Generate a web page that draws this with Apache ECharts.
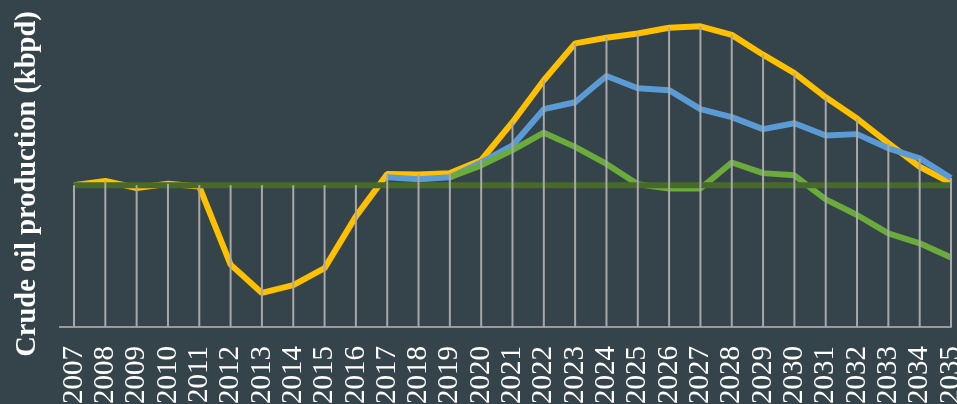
<!DOCTYPE html>
<html>
<head>
<meta charset="utf-8">
<script src="https://cdn.jsdelivr.net/npm/echarts@6/dist/echarts.min.js"></script>
<style>
html,body{margin:0;padding:0;background:#35434a;}
#c{width:957px;height:404px;}
</style>
</head>
<body>
<div id="c"></div>
<script>
var years = ['2007','2008','2009','2010','2011','2012','2013','2014','2015','2016','2017','2018','2019','2020','2021','2022','2023','2024','2025','2026','2027','2028','2029','2030','2031','2032','2033','2034','2035'];
var yellowSeries = [0,3,-2,1,-1,-56,-76,-70.5,-58.5,-22,7.8,7.5,8.5,17.6,44.4,74,100,104,107,111,112,106,92,79,62,47,29.6,13,1.5];
var blueSeries = [null,null,null,null,null,null,null,null,null,null,5.6,4.2,5.6,16,28,53.6,58.5,77,68.4,67,53.6,48,39.5,43.7,35,36,26,19,5];
var greenSeries = [null,null,null,null,null,null,null,null,null,null,null,null,5.6,14,24.7,37,27,15,0.7,-2.3,-2.3,16,8.5,7,-10,-21,-34,-41,-51];
var baselineSeries = [0,0,0,0,0,0,0,0,0,0,0,0,0,0,0,0,0,0,0,0,0,0,0,0,0,0,0,0,0];
var yMin = -100, yMax = 120;

var dropData = years.map(function(y, i){
  var vals = [yellowSeries[i], blueSeries[i], greenSeries[i], baselineSeries[i]].filter(function(v){return v!==null;});
  return [i, Math.max.apply(null, vals)];
});

var chart = echarts.init(document.getElementById('c'), null, {renderer:'canvas'});
var serif = '"Liberation Serif","Times New Roman",serif';
chart.setOption({
  animation:false,
  backgroundColor:'#35434a',
  grid:{left:74,right:6,top:15,bottom:77,containLabel:false,outerBoundsMode:'none'},
  xAxis:{
    type:'category', data:years, boundaryGap:false,
    axisLine:{show:true,onZero:false,lineStyle:{color:'#9a9a9a',width:2}},
    axisTick:{show:false},
    splitLine:{show:false},
    axisLabel:{rotate:90,color:'#ffffff',fontFamily:serif,fontSize:29,margin:19,interval:0,hideOverlap:false}
  },
  yAxis:{type:'value',min:yMin,max:yMax,show:false,splitLine:{show:false}},
  series:[
    {type:'line',data:yellowSeries,symbol:'none',lineStyle:{color:'#ffc000',width:6},z:2},
    {type:'line',data:blueSeries,symbol:'none',lineStyle:{color:'#5b9bd5',width:6},z:3},
    {type:'line',data:greenSeries,symbol:'none',lineStyle:{color:'#6aab3c',width:6},z:4},
    {type:'line',data:baselineSeries,symbol:'none',lineStyle:{color:'#476a2b',width:6},z:5},
    {type:'custom',data:dropData,z:6,silent:true,
     renderItem:function(params, api){
       var top = api.coord([api.value(0), api.value(1)]);
       var bot = api.coord([api.value(0), yMin]);
       return {type:'line',shape:{x1:top[0],y1:top[1],x2:bot[0],y2:bot[1]},style:{stroke:'#a8a8a8',lineWidth:2}};
     }}
  ]
});

var p0 = chart.convertToPixel({gridIndex:0},[0,yMin]);
chart.setOption({
  graphic:[
    {type:'line',shape:{x1:59,y1:p0[1],x2:p0[0],y2:p0[1]},style:{stroke:'#9a9a9a',lineWidth:2},z:10},
    {type:'text',x:28,y:184,rotation:Math.PI/2,
     style:{text:'Crude oil production (kbpd)',fill:'#ffffff',font:'bold 28.5px "Liberation Serif","Times New Roman",serif',align:'center',verticalAlign:'middle'}}
  ]
});
</script>
</body>
</html>
